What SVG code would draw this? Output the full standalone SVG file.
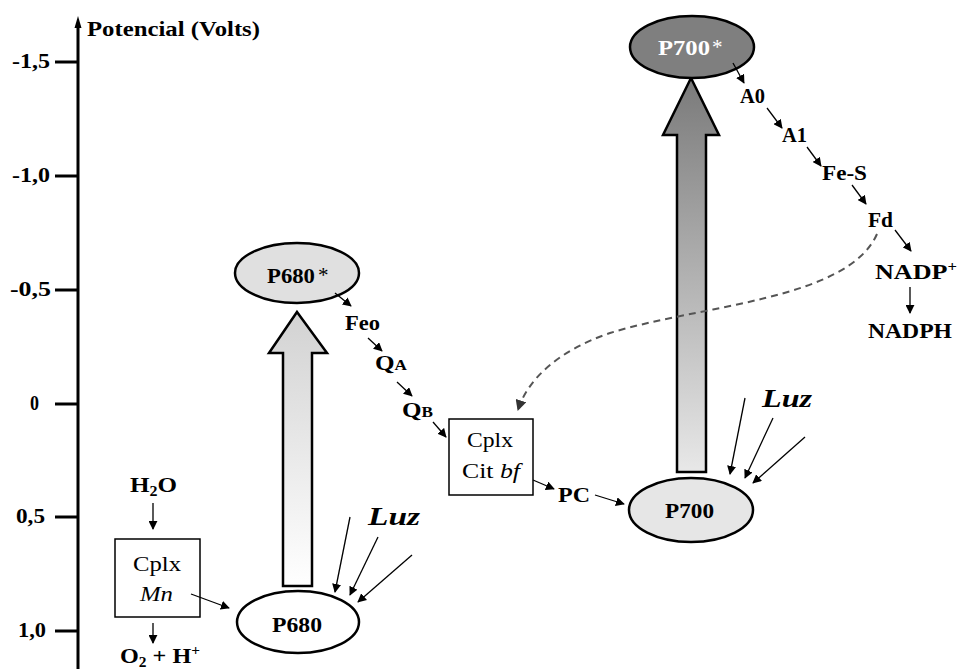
<svg xmlns="http://www.w3.org/2000/svg" width="959" height="669" viewBox="0 0 959 669">
<defs>
<linearGradient id="g680" x1="0" y1="0" x2="0" y2="1">
<stop offset="0" stop-color="#d2d2d2"/><stop offset="1" stop-color="#ffffff"/>
</linearGradient>
<linearGradient id="g700" x1="0" y1="0" x2="0" y2="1">
<stop offset="0" stop-color="#7a7a7a"/><stop offset="1" stop-color="#e8e8e8"/>
</linearGradient>
<marker id="ah" viewBox="0 0 10 10" refX="9" refY="5" markerWidth="9" markerHeight="9" markerUnits="userSpaceOnUse" orient="auto">
<path d="M0,0 L10,5 L0,10 Z" fill="#000"/>
</marker>
<marker id="ahd" viewBox="0 0 10 10" refX="9" refY="5" markerWidth="11" markerHeight="11" markerUnits="userSpaceOnUse" orient="auto">
<path d="M0,0 L10,5 L0,10 Z" fill="#333"/>
</marker>
</defs>
<style>
.b{font-family:"Liberation Serif","Times New Roman",serif;font-weight:bold;font-size:22px;fill:#000}
.r{font-family:"Liberation Serif","Times New Roman",serif;font-size:21px;fill:#000}
.tick{font-family:"Liberation Serif","Times New Roman",serif;font-weight:bold;font-size:20px;fill:#000}
.luz{font-family:"Liberation Serif","Times New Roman",serif;font-weight:bold;font-style:italic;font-size:25px;fill:#000}
.c{fill:none;stroke:#000;stroke-width:1.3;marker-end:url(#ah)}
.big{stroke:#000;stroke-width:2.5;stroke-linejoin:miter}
.ell{stroke:#000;stroke-width:2.5}
.box{fill:#fff;stroke:#000;stroke-width:1.5}
</style>
<rect x="0" y="0" width="959" height="669" fill="#fff"/>

<g id="axis">
<line x1="78" y1="669" x2="78" y2="24" stroke="#000" stroke-width="3"/>
<polygon points="78,16 74.5,28 81.5,28" fill="#000"/>
<g stroke="#000" stroke-width="3">
<line x1="55" y1="62" x2="78" y2="62"/>
<line x1="55" y1="176" x2="78" y2="176"/>
<line x1="55" y1="290" x2="78" y2="290"/>
<line x1="55" y1="404" x2="78" y2="404"/>
<line x1="55" y1="517" x2="78" y2="517"/>
<line x1="55" y1="631" x2="78" y2="631"/>
</g>
<text class="tick" x="12" y="68" textLength="38" lengthAdjust="spacingAndGlyphs">-1,5</text>
<text class="tick" x="12" y="182" textLength="38" lengthAdjust="spacingAndGlyphs">-1,0</text>
<text class="tick" x="10" y="296" textLength="41" lengthAdjust="spacingAndGlyphs">-0,5</text>
<text class="tick" x="30" y="410" textLength="9" lengthAdjust="spacingAndGlyphs">0</text>
<text class="tick" x="16" y="523" textLength="29" lengthAdjust="spacingAndGlyphs">0,5</text>
<text class="tick" x="18" y="637" textLength="28" lengthAdjust="spacingAndGlyphs">1,0</text>
<text class="tick" x="87" y="36" textLength="173" lengthAdjust="spacingAndGlyphs">Potencial (Volts)</text>
</g>

<g id="arrow680">
<polygon class="big" fill="url(#g680)" points="297,312 327,353 312,353 312,586 283,586 283,353 269,353"/>
</g>
<g id="arrow700">
<polygon class="big" fill="url(#g700)" points="691,78 719,135 706,135 706,472 677,472 677,135 663,135"/>
</g>

<g id="P680star">
<ellipse class="ell" cx="297" cy="273" rx="62" ry="30" fill="#e0e0e0"/>
<text class="b" x="267" y="283" textLength="48" lengthAdjust="spacingAndGlyphs">P680</text>
<text class="r" x="318" y="282" font-size="16">*</text>
</g>
<g id="P680">
<ellipse class="ell" cx="298" cy="622" rx="61" ry="31" fill="#fff"/>
<text class="b" x="272" y="632" textLength="50" lengthAdjust="spacingAndGlyphs">P680</text>
</g>
<g id="P700star">
<ellipse class="ell" cx="692" cy="47" rx="62" ry="31" fill="#7f7f7f"/>
<text class="b" x="658" y="55" textLength="52" lengthAdjust="spacingAndGlyphs" style="fill:#fff">P700</text>
<text class="r" x="712" y="54" font-size="16" style="fill:#fff">*</text>
</g>
<g id="P700">
<ellipse class="ell" cx="691" cy="510" rx="62" ry="32" fill="#e6e6e6"/>
<text class="b" x="665" y="518" textLength="49" lengthAdjust="spacingAndGlyphs">P700</text>
</g>

<g id="CplxMn">
<rect class="box" x="115" y="539" width="85" height="78"/>
<text class="r" x="133" y="571" textLength="48" lengthAdjust="spacingAndGlyphs">Cplx</text>
<text class="r" x="140" y="601" font-style="italic" textLength="33" lengthAdjust="spacingAndGlyphs">Mn</text>
</g>
<g id="CplxCitbf">
<rect class="box" x="449" y="419" width="84" height="76"/>
<text class="r" x="467" y="447" textLength="46" lengthAdjust="spacingAndGlyphs">Cplx</text>
<text class="r" x="462" y="478" textLength="58" lengthAdjust="spacingAndGlyphs">Cit <tspan font-style="italic">bf</tspan></text>
</g>

<g id="H2O"><text class="b" x="130" y="492" textLength="47" lengthAdjust="spacingAndGlyphs">H<tspan font-size="14" dy="4">2</tspan><tspan dy="-4">O</tspan></text></g>
<g id="O2H"><text class="b" x="120" y="663" textLength="80" lengthAdjust="spacingAndGlyphs">O<tspan font-size="14" dy="4">2</tspan><tspan dy="-4"> + H</tspan><tspan font-size="14" dy="-8">+</tspan></text></g>
<g id="Feo"><text class="b" x="345" y="330" textLength="35" lengthAdjust="spacingAndGlyphs">Feo</text></g>
<g id="QA"><text class="b" x="375" y="370" textLength="32" lengthAdjust="spacingAndGlyphs">Q<tspan font-size="15">A</tspan></text></g>
<g id="QB"><text class="b" x="402" y="417" textLength="31" lengthAdjust="spacingAndGlyphs">Q<tspan font-size="15">B</tspan></text></g>
<g id="PC"><text class="b" x="558" y="502" textLength="32" lengthAdjust="spacingAndGlyphs">PC</text></g>
<g id="A0"><text class="b" x="740" y="103" textLength="25" lengthAdjust="spacingAndGlyphs">A0</text></g>
<g id="A1"><text class="b" x="782" y="142" textLength="25" lengthAdjust="spacingAndGlyphs">A1</text></g>
<g id="FeS"><text class="b" x="822" y="180" textLength="45" lengthAdjust="spacingAndGlyphs">Fe-S</text></g>
<g id="Fd"><text class="b" x="868" y="227" textLength="25" lengthAdjust="spacingAndGlyphs">Fd</text></g>
<g id="NADP"><text class="b" x="875" y="279" textLength="82" lengthAdjust="spacingAndGlyphs">NADP<tspan font-size="14" dy="-8">+</tspan></text></g>
<g id="NADPH"><text class="b" x="868" y="338" textLength="84" lengthAdjust="spacingAndGlyphs">NADPH</text></g>
<g id="Luz1"><text class="luz" x="368" y="525" textLength="52" lengthAdjust="spacingAndGlyphs">Luz</text></g>
<g id="Luz2"><text class="luz" x="762" y="407" textLength="50" lengthAdjust="spacingAndGlyphs">Luz</text></g>

<g id="connectors">
<line class="c" x1="153" y1="503" x2="153" y2="529"/>
<line class="c" x1="153" y1="623" x2="153" y2="643"/>
<line class="c" x1="191" y1="594" x2="229" y2="608"/>
<line class="c" x1="350" y1="517" x2="335" y2="592"/>
<line class="c" x1="378" y1="537" x2="350" y2="595"/>
<line class="c" x1="412" y1="555" x2="358" y2="602"/>
<line class="c" x1="335" y1="293" x2="351" y2="306"/>
<line class="c" x1="368" y1="338" x2="382" y2="351"/>
<line class="c" x1="397" y1="382" x2="412" y2="396"/>
<line class="c" x1="433" y1="422" x2="446" y2="437"/>
<line class="c" x1="533" y1="480" x2="554" y2="489"/>
<line class="c" x1="595" y1="495" x2="624" y2="504"/>
<line class="c" x1="745" y1="398" x2="730" y2="474"/>
<line class="c" x1="773" y1="418" x2="745" y2="478"/>
<line class="c" x1="805" y1="437" x2="753" y2="483"/>
<line class="c" x1="733" y1="63" x2="744" y2="83"/>
<line class="c" x1="767" y1="108" x2="782" y2="128"/>
<line class="c" x1="807" y1="147" x2="821" y2="166"/>
<line class="c" x1="852" y1="185" x2="866" y2="204"/>
<line class="c" x1="895" y1="230" x2="911" y2="251"/>
<line class="c" x1="910" y1="287" x2="910" y2="313"/>
<path d="M877,234 C848,300 700,305 610,333 C560,350 528,378 518,410" fill="none" stroke="#555" stroke-width="2" stroke-dasharray="7,5" marker-end="url(#ahd)"/>
</g>
</svg>
